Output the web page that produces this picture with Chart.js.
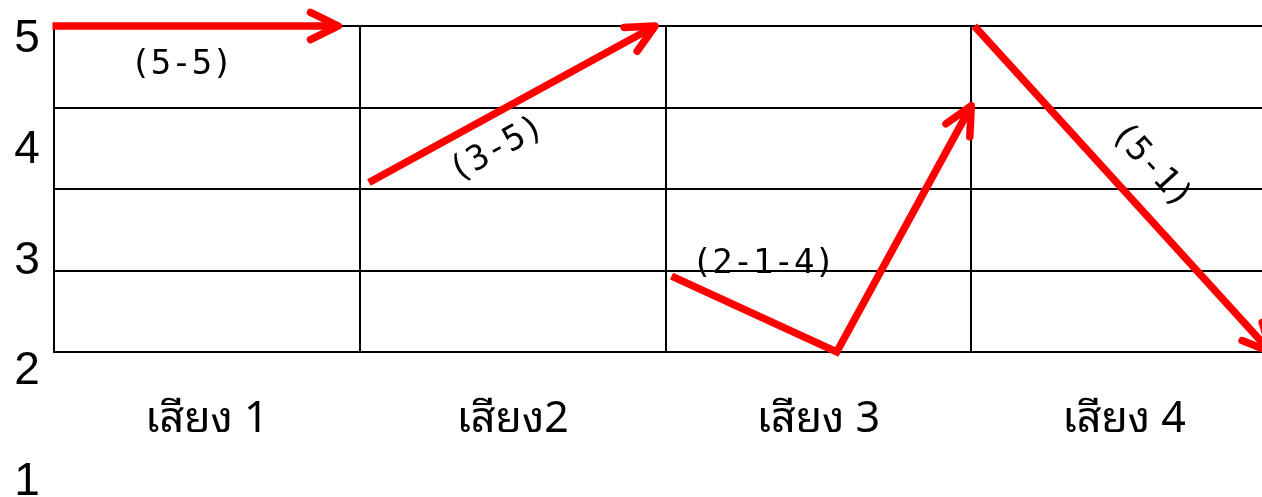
<!DOCTYPE html>
<html><head><meta charset="utf-8">
<script src="https://cdn.jsdelivr.net/npm/chart.js@4/dist/chart.umd.min.js"></script>
<style>
html,body{margin:0;padding:0;background:#fff;overflow:hidden;width:1262px;height:497px}
#wrap{position:relative;width:1280px;height:497px}
</style></head><body>
<div id="wrap"><canvas id="c"></canvas></div>
<script>
// ---- data ----
const categories = ['เสียง 1', 'เสียง2', 'เสียง 3', 'เสียง 4'];
const yTickLabels = ['5', '4', '3', '2', '1'];
const yTickValues = [5, 4, 3, 2, 1];
const tone1X = [-0.005, 0.93]; const tone1Y = [5, 5];
const tone2X = [1.03, 1.966];  const tone2Y = [3.08, 5];
const tone3X = [2.02, 2.56, 3.0]; const tone3Y = [1.93, 1, 4.02];
const tone4X = [3.01, 3.98];   const tone4Y = [5, 1];
const toneLabels = ['(5-5)', '(3-5)', '(2-1-4)', '(5-1)'];

function pts(xs, ys) { return xs.map((x, i) => ({ x: x, y: ys[i] })); }

const RED = '#ff0000';
function ds(xs, ys) {
  return { data: pts(xs, ys), showLine: true, borderColor: RED, backgroundColor: RED,
    borderWidth: 7.5, pointRadius: 0, pointHoverRadius: 0, borderCapStyle: 'butt',
    borderJoinStyle: 'miter', tension: 0, clip: false };
}

// arrowheads at the end of each series
const arrowPlugin = {
  id: 'arrows',
  afterDatasetsDraw(chart) {
    const ctx = chart.ctx;
    chart.data.datasets.forEach((d, i) => {
      const meta = chart.getDatasetMeta(i);
      const n = meta.data.length;
      const a = meta.data[n - 2], b = meta.data[n - 1];
      const ang = Math.atan2(b.y - a.y, b.x - a.x);
      const L = 31, h = 26 * Math.PI / 180;
      ctx.save();
      ctx.strokeStyle = RED; ctx.lineWidth = 7.5; ctx.lineCap = 'round'; ctx.lineJoin = 'round';
      ctx.beginPath();
      ctx.moveTo(b.x - L * Math.cos(ang - h), b.y - L * Math.sin(ang - h));
      ctx.lineTo(b.x, b.y);
      ctx.lineTo(b.x - L * Math.cos(ang + h), b.y - L * Math.sin(ang + h));
      ctx.stroke();
      ctx.restore();
    });
  }
};

// tone-contour text labels and y labels
const textPlugin = {
  id: 'texts',
  afterDatasetsDraw(chart, args, opts) {
    const ctx = chart.ctx, xs = chart.scales.x, ys = chart.scales.y;
    ctx.save();
    ctx.fillStyle = '#000';
    ctx.font = opts.noteFont;
    ctx.textAlign = 'center'; ctx.textBaseline = 'middle';
    opts.notes.forEach((nt, i) => {
      const px = xs.getPixelForValue(nt.x), py = ys.getPixelForValue(nt.y);
      let ang = 0;
      if (nt.follow) {
        const meta = chart.getDatasetMeta(i);
        const a = meta.data[0], b = meta.data[meta.data.length - 1];
        ang = Math.atan2(b.y - a.y, b.x - a.x);
      }
      ctx.save();
      ctx.translate(px, py); ctx.rotate(ang);
      ctx.fillText(toneLabels[i], 0, 0);
      ctx.restore();
    });
    // y axis labels (spaced wider than the grid, as in the source)
    ctx.font = opts.yFont;
    ctx.textAlign = 'center'; ctx.textBaseline = 'alphabetic';
    const base = ys.getPixelForValue(yTickValues[0]);
    const step = (ys.getPixelForValue(yTickValues[1]) - base) * opts.ySpread;
    yTickLabels.forEach((t, i) => {
      ctx.fillText(t, opts.yLabelX, base + opts.yLabelDrop + i * step);
    });
    ctx.restore();
  }
};

new Chart(document.getElementById('c'), {
  type: 'scatter',
  data: { labels: categories, datasets: [ds(tone1X, tone1Y), ds(tone2X, tone2Y), ds(tone3X, tone3Y), ds(tone4X, tone4Y)] },
  options: {
    responsive: true, maintainAspectRatio: false, animation: false,
    events: [],
    layout: { padding: { left: 54, top: 26, right: 3, bottom: 0 } },
    plugins: {
      legend: { display: false }, tooltip: { enabled: false },
      texts: {
        noteFont: '34px "DejaVu Sans Mono", monospace',
        yFont: '46px "Liberation Sans", Arial, sans-serif',
        yLabelX: 27, yLabelDrop: 26, ySpread: 1.359,
        notes: [
          { x: 0.417, y: 4.515, follow: false },
          { x: 1.449, y: 3.48, follow: true },
          { x: 2.32, y: 2.08, follow: false },
          { x: 3.588, y: 3.282, follow: true }
        ]
      }
    },
    scales: {
      x: {
        type: 'linear', min: 0, max: 4, position: 'bottom',
        ticks: { display: false, stepSize: 1 },
        grid: { color: '#000', lineWidth: 2, drawTicks: false },
        border: { display: true, color: '#000', width: 2 },
        afterFit(s) { s.height = 0; }
      },
      xl: {
        type: 'category', labels: categories, position: 'bottom', offset: true,
        grid: { display: false, drawTicks: false },
        border: { display: false },
        ticks: { color: '#000', padding: 42, font: { size: 43, family: '"Noto Sans Thai Looped", "Noto Sans Thai", "Noto Sans", "DejaVu Sans", sans-serif' } },
        afterFit(s) { s.height = 145; }
      },
      y: {
        type: 'linear', min: 1, max: 5,
        ticks: { display: false, stepSize: 1 },
        grid: { color: '#000', lineWidth: 2, drawTicks: false },
        border: { display: true, color: '#000', width: 2 },
        afterFit(s) { s.width = 0; }
      }
    }
  },
  plugins: [arrowPlugin, textPlugin]
});
</script>
</body></html>
